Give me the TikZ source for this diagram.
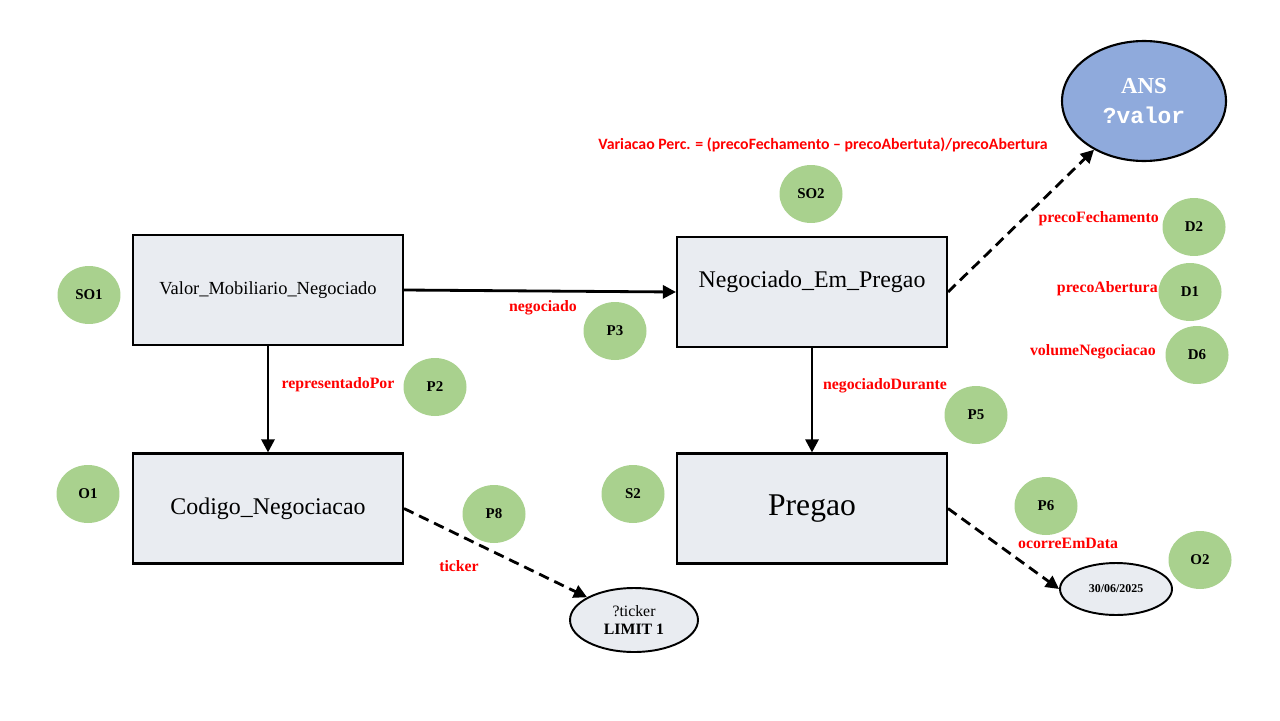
\documentclass[tikz,border=0pt]{standalone}
\usepackage{fontspec}
\setmainfont{Liberation Serif}
\newfontfamily\formulafont{Carlito}
\newfontfamily\codefont{Liberation Mono}
\usetikzlibrary{shapes.geometric,arrows.meta}

\definecolor{boxfill}{HTML}{E9ECF1}
\definecolor{tagfill}{HTML}{A9D18E}
\definecolor{ansfill}{HTML}{8FAADC}
\definecolor{relred}{HTML}{FF0000}

\tikzset{
  classbox/.style={draw=black, line width=1.2pt, fill=boxfill, rectangle,
    minimum width=5.4cm, minimum height=2.2cm, inner sep=0pt},
  tag/.style={ellipse, fill=tagfill, minimum width=1.26cm, minimum height=1.16cm,
    inner sep=0pt, font=\fontsize{8.5}{10}\selectfont\bfseries},
  relname/.style={text=relred, inner sep=0pt, font=\fontsize{9}{11}\selectfont\bfseries},
  valnode/.style={ellipse, draw=black, line width=1.1pt, fill=boxfill, inner sep=0pt},
  solidlink/.style={line width=1.6pt, -{Triangle[length=7.5pt,width=7.5pt]}},
  dashlink/.style={line width=1.6pt, dash pattern=on 6pt off 3.5pt,
    -{Triangle[length=7.5pt,width=7.5pt]}},
}

\begin{document}
\begin{tikzpicture}[x=0.02cm, y=-0.02cm]
\useasboundingbox (0,0) rectangle (1280,720);

% class boxes
\node[classbox, font=\fontsize{10.5}{12}\selectfont] (vmn) at (268,290) {Valor\_Mobiliario\_Negociado};
\node[classbox, label={[font=\fontsize{13.6}{16}\selectfont, yshift=0.2cm]center:Negociado\_Em\_Pregao}] (nep) at (812,292) {};
\node[classbox, font=\fontsize{13.6}{16}\selectfont] (cn) at (268,508.5) {Codigo\_Negociacao};
\node[classbox, font=\fontsize{18}{21}\selectfont] (preg) at (812,508.5) {Pregao};

% answer and value ellipses
\node[ellipse, draw=black, line width=1.2pt, fill=ansfill, inner sep=0pt,
      minimum width=3.28cm, minimum height=2.4cm, text=white, align=center]
      (ans) at (1144,101)
      {{\fontsize{13}{15}\selectfont\bfseries ANS}\\[5pt]{\codefont\fontsize{13}{15}\selectfont\bfseries ?valor}};
\node[valnode, minimum width=2.56cm, minimum height=1.28cm, align=center,
      font=\fontsize{9}{10.5}\selectfont] (tick) at (634,620)
      {?ticker\\\bfseries LIMIT 1};
\node[valnode, minimum width=2.24cm, minimum height=1.04cm,
      font=\fontsize{6.8}{8}\selectfont\bfseries] (date) at (1116,589) {30/06/2025};

% green tags
\node[tag] (so1) at (89,295) {SO1};
\node[tag] (so2) at (811,194) {SO2};
\node[tag] (p3) at (615,331) {P3};
\node[tag] (p2) at (435,387) {P2};
\node[tag] (p5) at (976,415) {P5};
\node[tag] (o1) at (88,494) {O1};
\node[tag] (s2) at (633,494) {S2};
\node[tag] (p8) at (494,514) {P8};
\node[tag] (p6) at (1046,506) {P6};
\node[tag] (o2) at (1200,560) {O2};
\node[tag] (d2) at (1194,227) {D2};
\node[tag] (d1) at (1190,292) {D1};
\node[tag] (d6) at (1197,355) {D6};

% connectors
\draw[solidlink] (vmn.east) -- (nep.west);
\draw[solidlink] (vmn.south) -- (cn.north);
\draw[solidlink] (nep.south) -- (preg.north);
\draw[dashlink] (nep.east) -- (ans);
\draw[dashlink] (cn.east) -- (tick);
\draw[dashlink] (preg.east) -- (date.west);

% relation names
\node[text=relred, inner sep=0pt, font=\formulafont\fontsize{9}{11}\selectfont\bfseries] (formula) at (823,145)
  {Variacao Perc. = (precoFechamento {\textendash} precoAbertuta)/precoAbertura};
\node[relname] (lneg) at (543,308) {negociado};
\node[relname] (lrep) at (338,385) {representadoPor};
\node[relname] (ldur) at (885,386) {negociadoDurante};
\node[relname] (ltick) at (459,566) {ticker};
\node[relname] (ldata) at (1068,543) {ocorreEmData};
\node[relname, anchor=east] (lfech) at (1159,219) {precoFechamento};
\node[relname, anchor=east] (labe) at (1158,289) {precoAbertura};
\node[relname, anchor=east] (lvol) at (1156,352) {volumeNegociacao};
\end{tikzpicture}
\end{document}
